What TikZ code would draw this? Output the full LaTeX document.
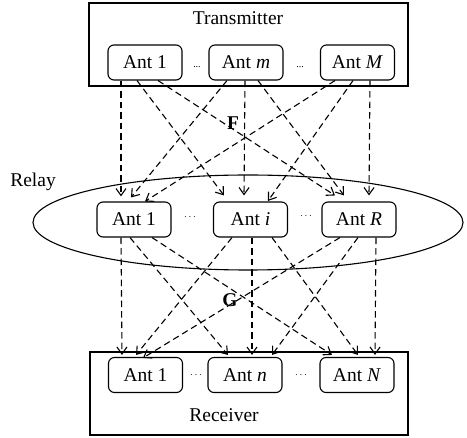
\documentclass[tikz,border=0pt]{standalone}
\usepackage{fontspec}
\setmainfont{Liberation Serif}
\usetikzlibrary{arrows.meta,shapes.geometric}
\begin{document}
\begin{tikzpicture}[x=1pt,y=-1pt,
  every node/.style={font=\fontsize{19.5}{22}\selectfont},
  outerbox/.style={draw,line width=1.2pt,minimum width=319pt,minimum height=83pt,inner sep=0pt},
  antbox/.style={draw,line width=1.1pt,rounded corners=6pt,minimum width=74pt,minimum height=35pt,inner sep=0pt},
  link/.style={draw,line width=1.1pt,dash pattern=on 6.5pt off 4pt,-{Straight Barb[length=7pt,width=10pt,line width=1.1pt]}},
  dotlab/.style={font=\fontsize{10}{12}\selectfont,inner sep=0pt},
  lab/.style={inner sep=0pt}]
\useasboundingbox (0,0) rectangle (467,438);
% transmitter
\node[outerbox] (tx) at (248.5,44.5) {};
\node[lab] (txl) at (238,18) {Transmitter};
\node[antbox] (t1) at (145,62.5) {Ant 1};
\node[antbox] (tm) at (246,62.5) {Ant \textit{m}};
\node[antbox] (tM) at (357.5,62.5) {Ant \textit{M}};
\node[dotlab] (td1) at (197,67) {...};
\node[dotlab] (td2) at (300,67) {...};
% relay
\node[draw,ellipse,line width=1.1pt,minimum width=430pt,minimum height=95pt,inner sep=0pt] (relay) at (248,222.5) {};
\node[lab] (rl) at (33,182) {Relay};
\node[antbox] (r1) at (134,219.5) {Ant 1};
\node[antbox] (ri) at (250.5,219.5) {Ant \textit{i}};
\node[antbox] (rR) at (359,219.5) {Ant \textit{R}};
\node[dotlab] (rd1) at (190,217) {$\cdots$};
\node[dotlab] (rd2) at (306,216) {$\cdots$};
% receiver
\node[outerbox,minimum width=318pt] (rx) at (249,393.5) {};
\node[lab] (rxl) at (224,415) {Receiver};
\node[antbox] (n1) at (145.5,375) {Ant 1};
\node[antbox] (nn) at (245,375) {Ant \textit{n}};
\node[antbox] (nN) at (357,375) {Ant \textit{N}};
\node[dotlab] (nd1) at (196,375) {$\cdots$};
\node[dotlab] (nd2) at (301,375) {$\cdots$};
% labels F, G
\node[lab] (F) at (233,123) {\textbf{F}};
\node[lab] (G) at (230,300) {\textbf{G}};
% transmitter -> relay
\draw[link] ([xshift=-24pt]t1.south) -- ([xshift=-13pt,yshift=5pt]r1.north);
\draw[link] ([xshift=-8pt]t1.south) -- ([xshift=-26.5pt,yshift=6pt]ri.north);
\draw[link] ([xshift=13pt]t1.south) -- ([xshift=-24pt,yshift=6pt]rR.north);
\draw[link] ([xshift=-19pt]tm.south) -- ([xshift=-3pt,yshift=4pt]r1.north);
\draw[link] ([xshift=-1pt]tm.south) -- ([xshift=-6.5pt,yshift=6pt]ri.north);
\draw[link] ([xshift=12pt]tm.south) -- ([xshift=-15pt,yshift=6pt]rR.north);
\draw[link] ([xshift=-22.5pt]tM.south) -- ([xshift=11pt]r1.north);
\draw[link] ([xshift=-4.5pt]tM.south) -- ([xshift=17.5pt,yshift=0.5pt]ri.north);
\draw[link] ([xshift=12.5pt]tM.south) -- ([xshift=10pt,yshift=6pt]rR.north);
% relay -> receiver
\draw[link] ([xshift=-13pt]r1.south) -- ([xshift=-23.5pt,yshift=2pt]n1.north);
\draw[link] ([xshift=-4pt]r1.south) -- ([xshift=-17pt,yshift=2pt]nn.north);
\draw[link] ([xshift=18pt]r1.south) -- ([xshift=-25pt,yshift=2pt]nN.north);
\draw[link] ([xshift=-18.5pt]ri.south) -- ([xshift=-9.5pt,yshift=2pt]n1.north);
\draw[link] ([xshift=1.5pt]ri.south) -- ([xshift=7pt,yshift=2pt]nn.north);
\draw[link] ([xshift=21.5pt]ri.south) -- ([xshift=1pt,yshift=2pt]nN.north);
\draw[link] ([xshift=-19pt]rR.south) -- ([xshift=-2.5pt,yshift=-1pt]n1.north);
\draw[link] ([xshift=-1pt]rR.south) -- ([xshift=27pt,yshift=2pt]nn.north);
\draw[link] ([xshift=17pt]rR.south) -- ([xshift=18pt,yshift=2pt]nN.north);
\end{tikzpicture}
\end{document}
